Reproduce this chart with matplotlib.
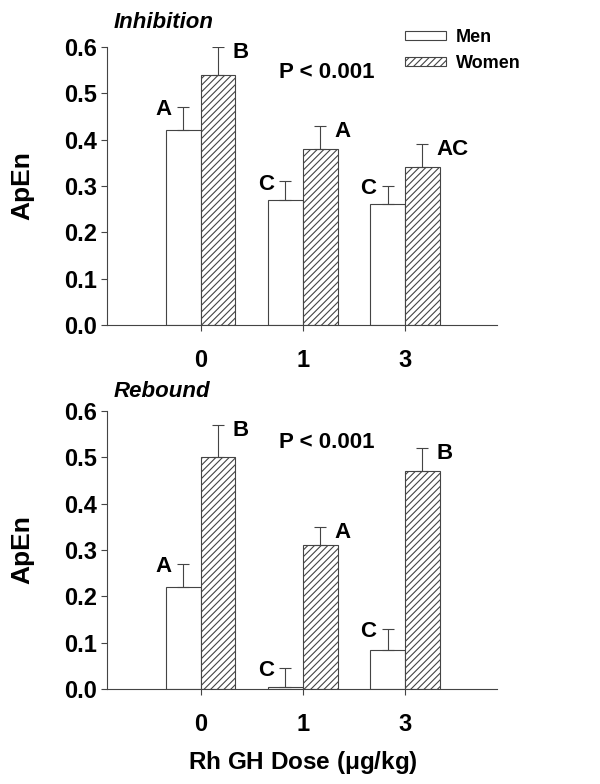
import numpy as np
import matplotlib
matplotlib.use("Agg")
import matplotlib.pyplot as plt

plt.rcParams['font.family'] = ['Liberation Sans', 'DejaVu Sans']
plt.rcParams['font.weight'] = 'bold'
plt.rcParams['hatch.color'] = '#555555'
plt.rcParams['hatch.linewidth'] = 0.8

doses = ['0', '1', '3']

# inhibition panel
inh_men = [0.42, 0.27, 0.26]
inh_men_err = [0.05, 0.04, 0.04]
inh_women = [0.54, 0.38, 0.34]
inh_women_err = [0.06, 0.05, 0.05]
inh_men_letters = ['A', 'C', 'C']
inh_women_letters = ['B', 'A', 'AC']

# rebound panel
reb_men = [0.22, 0.004, 0.085]
reb_men_err = [0.05, 0.041, 0.045]
reb_women = [0.50, 0.31, 0.47]
reb_women_err = [0.07, 0.04, 0.05]
reb_men_letters = ['A', 'C', 'C']
reb_women_letters = ['B', 'A', 'B']

fig = plt.figure(figsize=(6, 7.84), dpi=100)
ax1 = fig.add_axes([0.178, 0.5855, 0.65, 0.3546])
ax2 = fig.add_axes([0.178, 0.1212, 0.65, 0.3546])

w = 0.34
x = np.arange(len(doses))
edge = '#444444'


def panel(ax, men, men_err, women, women_err, mlet, wlet, title, title_y, p_y):
    ax.bar(x - w / 2, men, w, color='white', edgecolor=edge, linewidth=0.8,
           label='Men', zorder=2)
    ax.bar(x + w / 2, women, w, color='white', edgecolor=edge, linewidth=0.8,
           hatch='/////', label='Women', zorder=2)
    ax.errorbar(x - w / 2, men, yerr=[np.zeros(3), men_err], fmt='none',
                ecolor=edge, elinewidth=0.8, capsize=4.3, capthick=0.8, zorder=3)
    ax.errorbar(x + w / 2, women, yerr=[np.zeros(3), women_err], fmt='none',
                ecolor=edge, elinewidth=0.8, capsize=4.3, capthick=0.8, zorder=3)
    for i in range(3):
        ax.text(x[i] - w - 0.02, men[i] + men_err[i] - 0.006, mlet[i],
                ha='center', va='center', fontsize=16, fontweight='bold')
        ax.text(x[i] + w - 0.03, women[i] + women_err[i] - 0.012, wlet[i],
                ha='left', va='center', fontsize=16, fontweight='bold')
    ax.text(1.23, p_y, 'P < 0.001', fontsize=16,
            fontweight='bold', ha='center', va='center')
    ax.set_xlim(-0.92, 2.90)
    ax.set_ylim(0, 0.6)
    ax.set_yticks(np.arange(0, 0.61, 0.1))
    ax.set_yticklabels([f'{v:.1f}' for v in np.arange(0, 0.61, 0.1)])
    ax.set_xticks(x)
    ax.set_xticklabels(doses)
    ax.tick_params(axis='both', labelsize=17, color=edge, width=0.8, length=4,
                   pad=3)
    ax.tick_params(axis='x', pad=13)
    for s in ['top', 'right']:
        ax.spines[s].set_visible(False)
    for s in ['left', 'bottom']:
        ax.spines[s].set_color(edge)
        ax.spines[s].set_linewidth(0.8)
    ax.set_ylabel('ApEn', fontsize=19, fontweight='bold')
    ax.yaxis.set_label_coords(-0.186, 0.5)
    ax.text(-0.85, title_y, title, fontsize=16, fontweight='bold',
            style='italic', ha='left', va='center', clip_on=False)


panel(ax1, inh_men, inh_men_err, inh_women, inh_women_err,
      inh_men_letters, inh_women_letters, 'Inhibition', 0.652, 0.544)
panel(ax2, reb_men, reb_men_err, reb_women, reb_women_err,
      reb_men_letters, reb_women_letters, 'Rebound', 0.641, 0.533)

ax1.legend(loc='upper left', bbox_to_anchor=(0.764, 1.064), frameon=False,
           fontsize=13, handlelength=2.3, handleheight=0.4,
           handletextpad=0.55, labelspacing=0.5, borderpad=0,
           borderaxespad=0)

fig.text(0.505, 0.028, r'Rh GH Dose ($\mathregular{\mu}$g/kg)', ha='center',
         va='center', fontsize=17.5, fontweight='bold')

fig.savefig('out.png', dpi=100)
